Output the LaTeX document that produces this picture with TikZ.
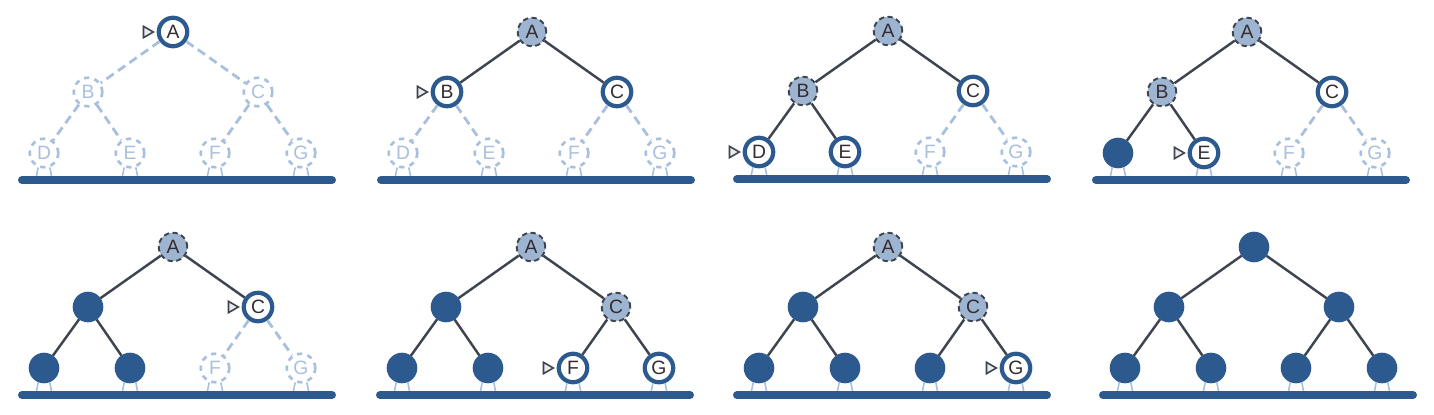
\documentclass[tikz,border=0pt]{standalone}
\usepackage{fontspec}
\setmainfont{Liberation Sans}
\usepackage{tikz}
\usetikzlibrary{shapes.geometric}
\definecolor{dkBlue}{RGB}{44, 90, 142}
\definecolor{ltBlue}{RGB}{168, 192, 222}
\definecolor{seenBlue}{RGB}{158, 181, 209}
\definecolor{edgeGray}{RGB}{62, 68, 80}
\definecolor{txtDark}{RGB}{52, 44, 48}

\begin{document}
\begin{tikzpicture}[
    x=0.02cm, y=-0.02cm,
    vtx/.style={circle, minimum size=0.57cm, inner sep=0pt,
                font=\fontsize{11}{13}\selectfont},
    todo/.style={vtx, draw=ltBlue, dashed, line width=1.5pt, fill=white, text=ltBlue},
    open/.style={vtx, draw=dkBlue, line width=2.4pt, fill=white, text=txtDark},
    cur/.style={open, label={[ptr]180:{}}},
    seen/.style={vtx, draw=edgeGray, densely dashed, line width=1.1pt, fill=seenBlue, text=txtDark},
    done/.style={vtx, draw=dkBlue, line width=1.2pt, fill=dkBlue, text=dkBlue},
    ptr/.style={isosceles triangle, isosceles triangle apex angle=60, draw=edgeGray,
                fill=black!8, line width=0.9pt, inner sep=1.5pt, minimum size=0pt,
                label distance=1pt},
    etodo/.style={ltBlue, dashed, dash pattern=on 5pt off 3pt, line width=1.6pt},
    eopen/.style={edgeGray, line width=1.4pt},
    ecur/.style={eopen}, eseen/.style={eopen}, edone/.style={eopen},
    stub/.style={ltBlue, line width=0.9pt},
    floor/.style={dkBlue, line width=0.16cm, line cap=round},
  ]
  \useasboundingbox (0,0) rectangle (1434,415);

  % one panel per step of the traversal
  \foreach \px/\py/\p/\sA/\sB/\sC/\sD/\sE/\sF/\sG in {
      173/32/a/cur/todo/todo/todo/todo/todo/todo,
      532/32/b/seen/cur/open/todo/todo/todo/todo,
      888/31/c/seen/seen/open/cur/open/todo/todo,
      1247/32/d/seen/seen/open/done/cur/todo/todo,
      173/247/e/seen/done/cur/done/done/todo/todo,
      531/247/f/seen/done/seen/done/done/cur/open,
      888/247/g/seen/done/seen/done/done/done/cur,
      1254/247/h/done/done/done/done/done/done/done}
  {
    \node[\sA] (\p A) at (\px,\py) {A};
    \node[\sB] (\p B) at (\px-85,\py+60) {B};
    \node[\sC] (\p C) at (\px+85,\py+60) {C};
    \node[\sD] (\p D) at (\px-129,\py+121) {D};
    \node[\sE] (\p E) at (\px-43,\py+121) {E};
    \node[\sF] (\p F) at (\px+42,\py+121) {F};
    \node[\sG] (\p G) at (\px+128,\py+121) {G};

    \draw[e\sB] (\p A) -- (\p B);
    \draw[e\sC] (\p A) -- (\p C);
    \draw[e\sD] (\p B) -- (\p D);
    \draw[e\sE] (\p B) -- (\p E);
    \draw[e\sF] (\p C) -- (\p F);
    \draw[e\sG] (\p C) -- (\p G);

    % empty children and the ground line
    \foreach \l in {D,E,F,G} {
      \draw[stub] (\p\l.-112) -- ++(-2,10);
      \draw[stub] (\p\l.-68) -- ++(2,10);
    }
    \draw[floor] (\px-151,\py+148) -- (\px+159,\py+148);
  }
\end{tikzpicture}
\end{document}
